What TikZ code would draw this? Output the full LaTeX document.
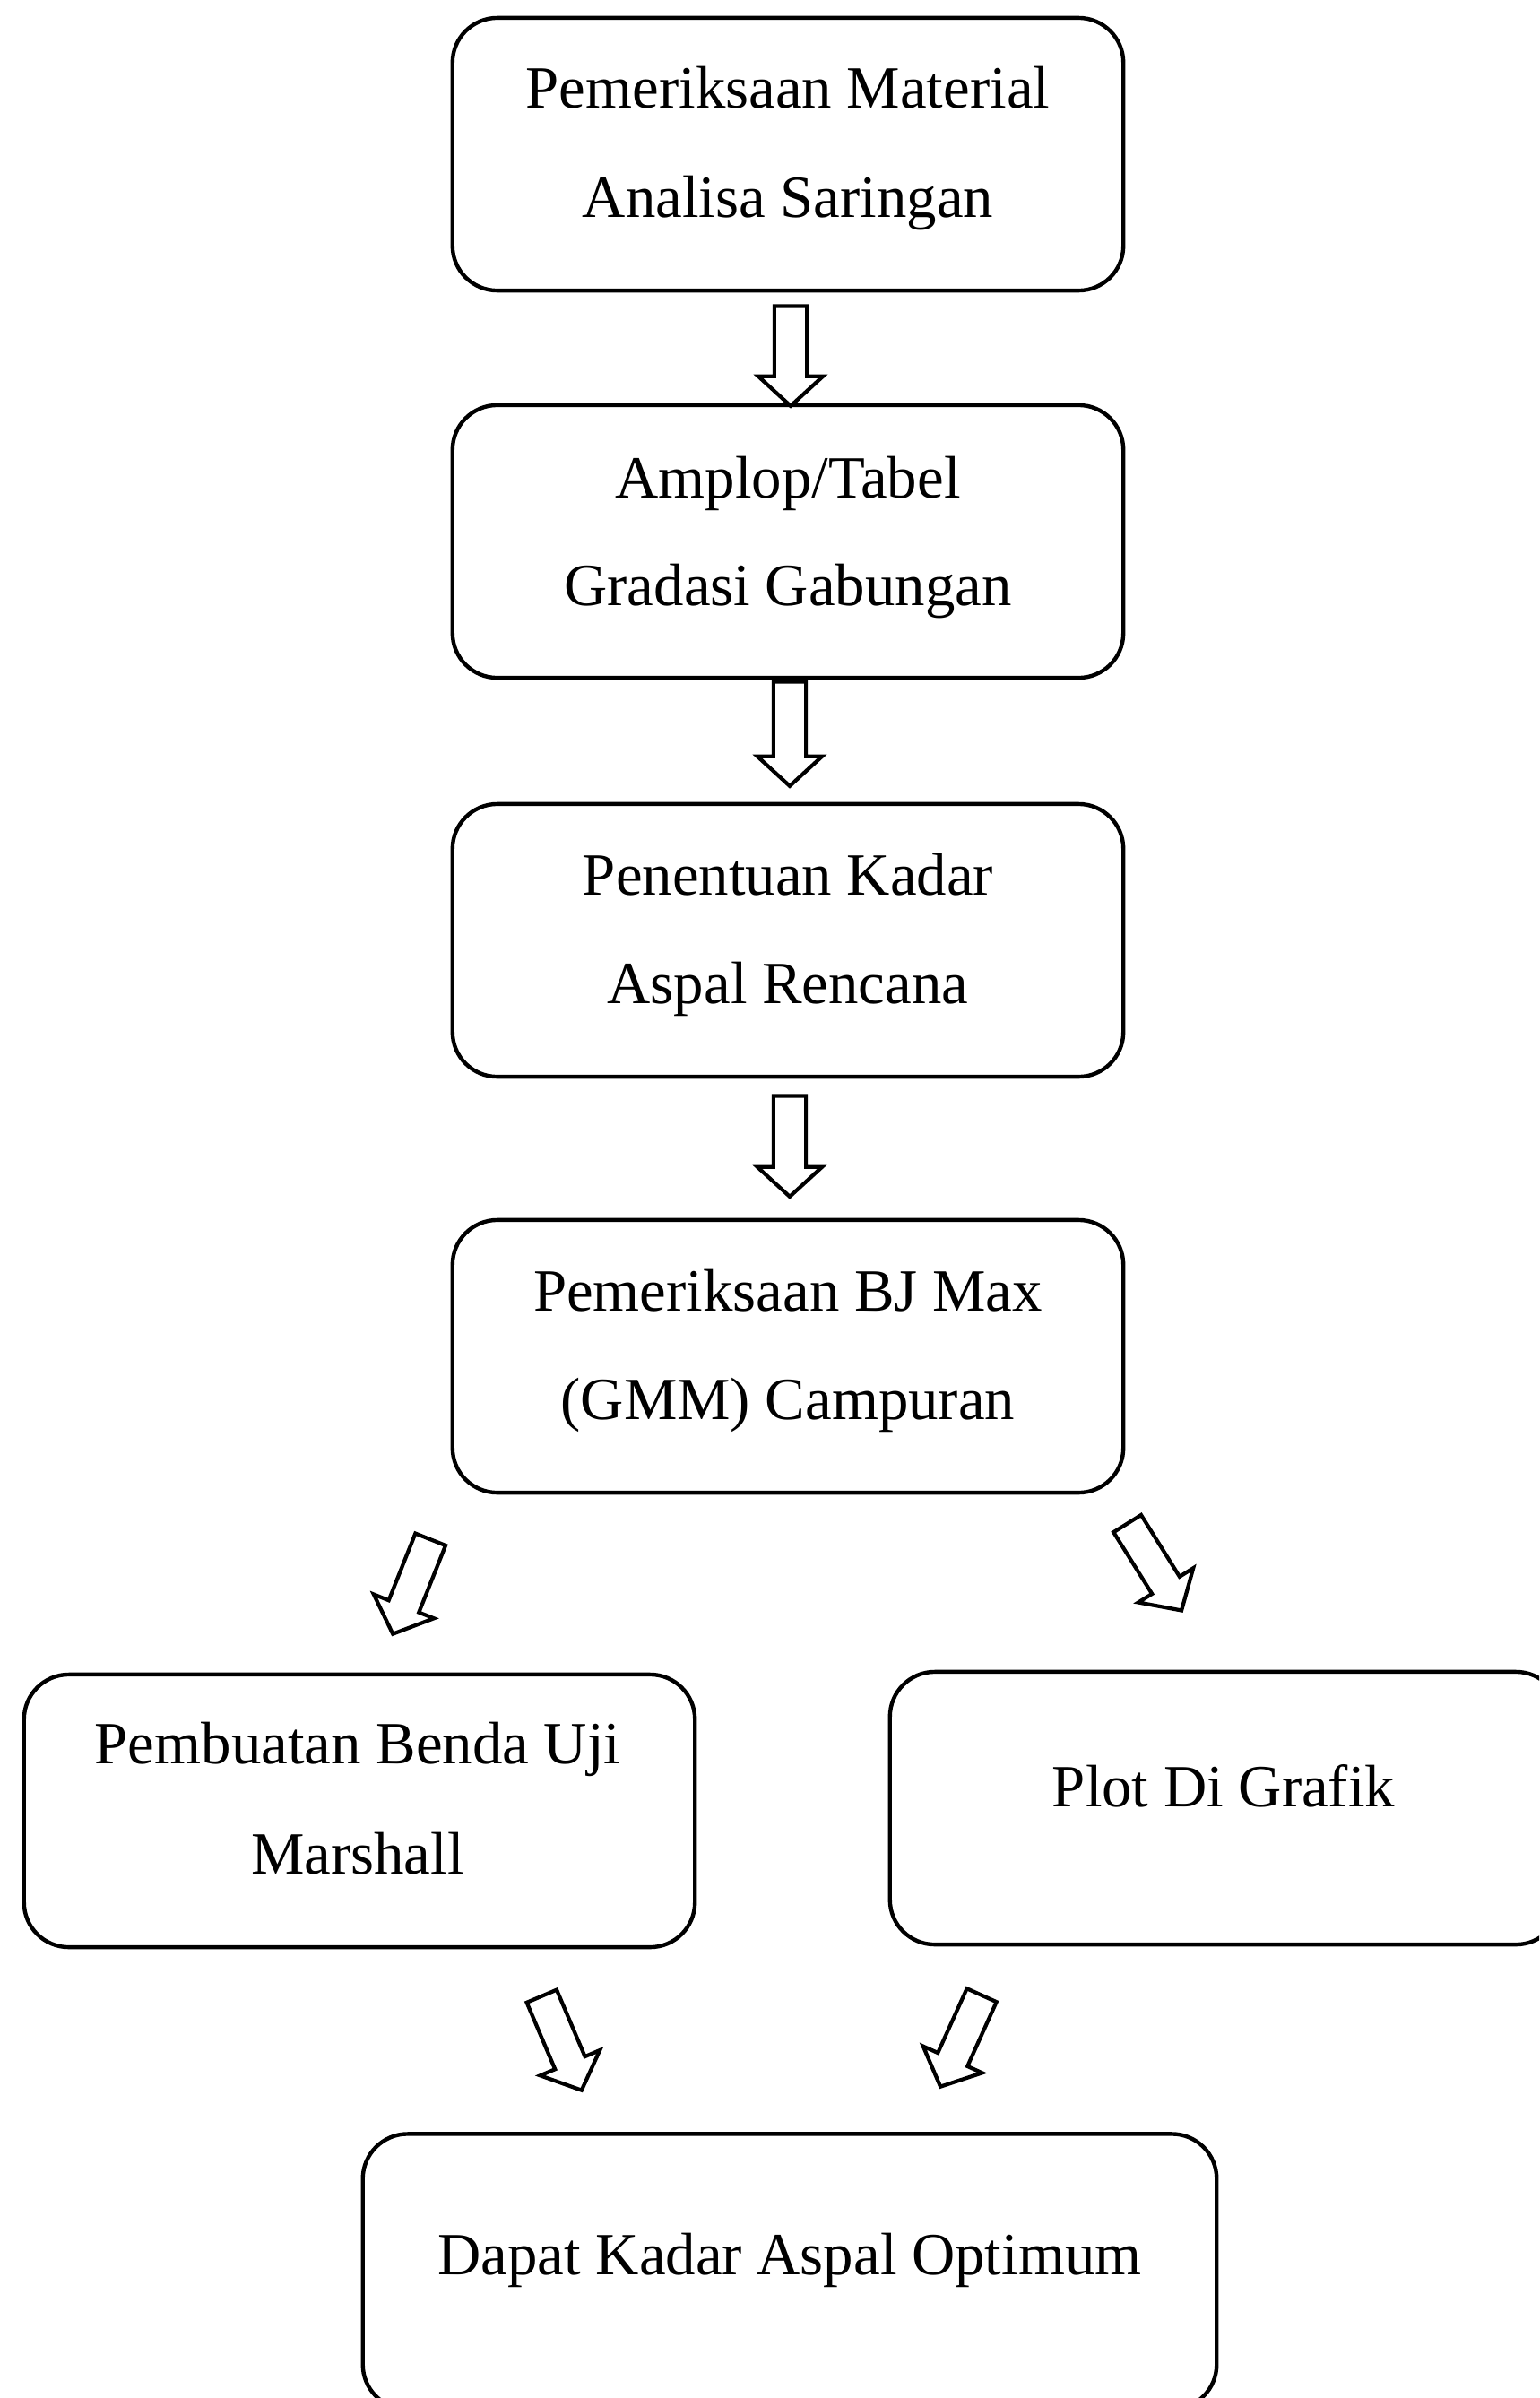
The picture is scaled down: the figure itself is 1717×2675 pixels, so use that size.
\documentclass[tikz,border=0pt]{standalone}
\usepackage{fontspec}
\setmainfont{Liberation Serif}
\usetikzlibrary{shapes.arrows,calc}
\tikzset{
  box/.style={draw, line width=1.25pt, rounded corners=0.5cm, minimum width=7.48cm, minimum height=3.04cm, inner sep=0pt},
  txt/.style={font=\fontsize{19pt}{23pt}\selectfont, inner sep=0pt, anchor=base},
  barrow/.style={single arrow, draw, line width=1.2pt, inner xsep=0pt, inner ysep=0.16cm,
    single arrow head extend=0.18cm, single arrow tip angle=95, single arrow head indent=0pt}
}
\newcommand\blockarrow[2]{%
  \path let \p1=(#1), \p2=(#2), \n1={veclen(\x2-\x1,\y2-\y1)} in
    (\p1) -- (\p2) node[barrow, pos=0, sloped, allow upside down, anchor=tail, minimum height=\n1] {};
}
\begin{document}
\begin{tikzpicture}[x=0.01cm, y=-0.01cm]
\path[use as bounding box, clip] (0,0) rectangle (1717,2675);
\fill[white] (0,0) rectangle (1717,2675);

% boxes
\node[box] (b1) at (879,172) {};
\node[box] (b2) at (879,604) {};
\node[box] (b3) at (879,1049) {};
\node[box] (b4) at (879,1513) {};
\node[box] (b5) at (401,2020) {};
\node[box] (b6) at (1367,2017) {};
\node[box, minimum width=9.52cm, minimum height=3.07cm] (b7) at (881,2534) {};

% texts
\node[txt] (t1a) at ($(b1.north)+(0,103)$) {Pemeriksaan Material};
\node[txt] (t1b) at ($(b1.north)+(0,225)$) {Analisa Saringan};
\node[txt] (t2a) at ($(b2.north)+(0,106)$) {Amplop/Tabel};
\node[txt] (t2b) at ($(b2.north)+(0,226)$) {Gradasi Gabungan};
\node[txt] (t3a) at ($(b3.north)+(0,104)$) {Penentuan Kadar};
\node[txt] (t3b) at ($(b3.north)+(0,225)$) {Aspal Rencana};
\node[txt] (t4a) at ($(b4.north)+(0,104)$) {Pemeriksaan BJ Max};
\node[txt] (t4b) at ($(b4.north)+(0,225)$) {(GMM) Campuran};
\node[txt] (t5a) at ($(b5.north)+(-2,102)$) {Pembuatan Benda Uji};
\node[txt] (t5b) at ($(b5.north)+(-2,225)$) {Marshall};
\node[txt] (t6) at ($(b6.north)+(-2,153)$) {Plot Di Grafik};
\node[txt] (t7) at ($(b7.north)+(0,159)$) {Dapat Kadar Aspal Optimum};

% arrow end points
\coordinate (a1s) at ($(b1.south)+(3,13)$);
\coordinate (a1e) at ($(b2.north)+(3,1)$);
\coordinate (a2s) at ($(b2.south)+(2,0)$);
\coordinate (a2e) at ($(b3.north)+(2,-20)$);
\coordinate (a3s) at ($(b3.south)+(2,17)$);
\coordinate (a3e) at ($(b4.north)+(2,-26)$);
\coordinate (a4s) at ($(b4.south)+(-398,48)$);
\coordinate (a4e) at ($(b5.north)+(38,-45)$);
\coordinate (a5s) at ($(b4.south)+(377.5,30.5)$);
\coordinate (a5e) at ($(b6.north)+(-50,-68)$);
\coordinate (a6s) at ($(b5.south)+(202.5,50.5)$);
\coordinate (a6e) at ($(b7.north)+(-233,-48.5)$);
\coordinate (a7s) at ($(b6.south)+(-271,52.5)$);
\coordinate (a7e) at ($(b7.north)+(169,-52.5)$);

\blockarrow{a1s}{a1e}
\blockarrow{a2s}{a2e}
\blockarrow{a3s}{a3e}
\blockarrow{a4s}{a4e}
\blockarrow{a5s}{a5e}
\blockarrow{a6s}{a6e}
\blockarrow{a7s}{a7e}
\end{tikzpicture}
\end{document}
